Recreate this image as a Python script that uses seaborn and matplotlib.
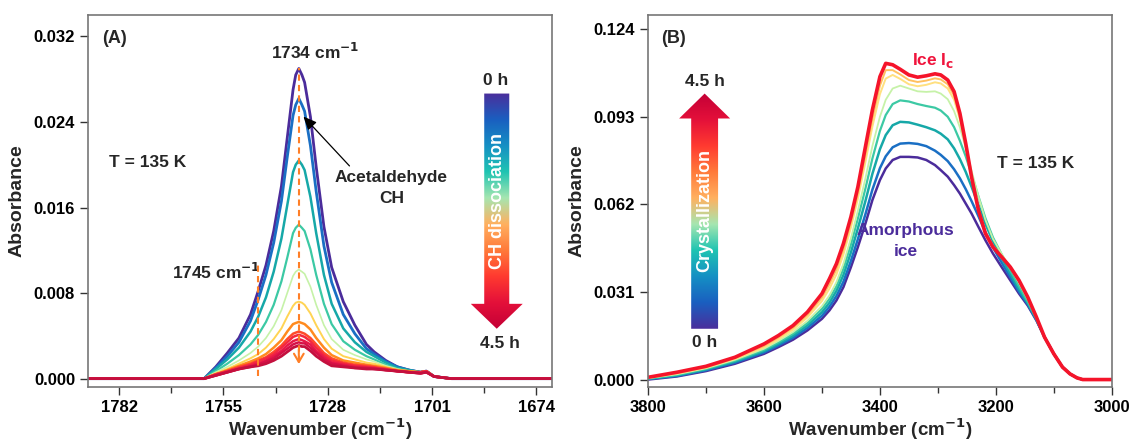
import numpy as np
import pandas as pd
import seaborn as sns
import matplotlib
matplotlib.use('Agg')
import matplotlib.pyplot as plt
from matplotlib.colors import LinearSegmentedColormap
from matplotlib.patches import Polygon

sns.set_style('white')
plt.rcParams['font.family'] = ['Liberation Sans', 'DejaVu Sans']
plt.rcParams['font.weight'] = 'bold'

# (A) C=O region, acetaldehyde CH dissociation, 0 h -> 4.5 h
wn_a = [1790, 1760, 1757, 1754, 1751, 1748, 1746, 1744, 1742, 1740, 1738.5, 1737, 1736.3,
        1735.5, 1734.7, 1734, 1732.5, 1731, 1729, 1727, 1724, 1721, 1718, 1716, 1713, 1710,
        1707, 1704, 1702.5, 1700.5, 1696, 1670]
abs_a_0h = [0, 0, 0.0011, 0.0024, 0.0038, 0.0060, 0.0082, 0.0106, 0.0138, 0.0180, 0.0225, 0.0270, 0.0284,
            0.0290, 0.0284, 0.0277, 0.0245, 0.0198, 0.0142, 0.0104, 0.0072, 0.0050, 0.0032, 0.0025, 0.0017, 0.0011,
            0.0008, 0.0006, 0.0007, 0.0002, 0, 0]
abs_a_1 = [0, 0, 0.0010, 0.0021, 0.0034, 0.0054, 0.0074, 0.0097, 0.0127, 0.0166, 0.0207, 0.0246, 0.0256,
           0.0262, 0.0256, 0.0250, 0.0218, 0.0175, 0.0124, 0.0090, 0.0060, 0.0042, 0.0028, 0.0023, 0.0016, 0.0011,
           0.0008, 0.0006, 0.0007, 0.0002, 0, 0]
abs_a_2 = [0, 0, 0.0009, 0.0018, 0.0029, 0.0044, 0.0058, 0.0076, 0.0100, 0.0131, 0.0162, 0.0193, 0.0200,
           0.0204, 0.0200, 0.0195, 0.0170, 0.0136, 0.0097, 0.0070, 0.0047, 0.0034, 0.0025, 0.0021, 0.0015, 0.0010,
           0.0008, 0.0006, 0.0007, 0.0002, 0, 0]
abs_a_3 = [0, 0, 0.0007, 0.0014, 0.0022, 0.0032, 0.0041, 0.0053, 0.0069, 0.0091, 0.0113, 0.0136, 0.0141,
           0.0144, 0.0141, 0.0138, 0.0121, 0.0097, 0.0070, 0.0051, 0.0035, 0.0027, 0.0021, 0.0018, 0.0013, 0.0009,
           0.0007, 0.0006, 0.0007, 0.0002, 0, 0]
abs_a_4 = [0, 0, 0.0006, 0.0011, 0.0017, 0.0024, 0.0030, 0.0038, 0.0049, 0.0064, 0.0080, 0.0096, 0.0100,
           0.0102, 0.0100, 0.0098, 0.0086, 0.0069, 0.0050, 0.0037, 0.0027, 0.0022, 0.0018, 0.0016, 0.0012, 0.0009,
           0.0007, 0.0006, 0.0007, 0.0002, 0, 0]
abs_a_5 = [0, 0, 0.0005, 0.0009, 0.0014, 0.0019, 0.0023, 0.0029, 0.0037, 0.0047, 0.0058, 0.0068, 0.0071,
           0.0072, 0.0071, 0.0069, 0.0061, 0.0050, 0.0037, 0.0028, 0.0021, 0.0018, 0.0015, 0.0014, 0.0011, 0.0008,
           0.0007, 0.0006, 0.0007, 0.0002, 0, 0]
abs_a_6 = [0, 0, 0.0004, 0.0008, 0.0012, 0.0016, 0.0019, 0.0023, 0.0029, 0.0036, 0.0044, 0.0051, 0.0052,
           0.0053, 0.0052, 0.0051, 0.0046, 0.0038, 0.0029, 0.0022, 0.0017, 0.0015, 0.0013, 0.0012, 0.0010, 0.0008,
           0.0007, 0.0006, 0.0007, 0.0002, 0, 0]
abs_a_7 = [0, 0, 0.0004, 0.0007, 0.0011, 0.0014, 0.0017, 0.0020, 0.0025, 0.0031, 0.0037, 0.0042, 0.0043,
           0.0044, 0.0043, 0.0042, 0.0038, 0.0032, 0.0024, 0.0019, 0.0015, 0.0013, 0.0012, 0.0011, 0.0009, 0.0007,
           0.0006, 0.0006, 0.0007, 0.0002, 0, 0]
abs_a_8 = [0, 0, 0.0004, 0.0007, 0.0010, 0.0013, 0.0016, 0.0019, 0.0023, 0.0029, 0.0034, 0.0039, 0.0040,
           0.0041, 0.0040, 0.0039, 0.0035, 0.0029, 0.0022, 0.0017, 0.0014, 0.0012, 0.0011, 0.0010, 0.0009, 0.0007,
           0.0006, 0.0006, 0.0007, 0.0002, 0, 0]
abs_a_9 = [0, 0, 0.0003, 0.0006, 0.0009, 0.0012, 0.0014, 0.0017, 0.0021, 0.0026, 0.0031, 0.0035, 0.0036,
           0.0037, 0.0036, 0.0035, 0.0032, 0.0026, 0.0020, 0.0015, 0.0013, 0.0011, 0.0010, 0.0010, 0.0008, 0.0007,
           0.0006, 0.0005, 0.0006, 0.0002, 0, 0]
abs_a_10 = [0, 0, 0.0003, 0.0006, 0.0009, 0.0011, 0.0013, 0.0016, 0.0019, 0.0024, 0.0028, 0.0032, 0.0033,
            0.0034, 0.0033, 0.0033, 0.0029, 0.0024, 0.0018, 0.0014, 0.0012, 0.0010, 0.0010, 0.0009, 0.0008, 0.0007,
            0.0006, 0.0005, 0.0006, 0.0002, 0, 0]
abs_a_45h = [0, 0, 0.0003, 0.0006, 0.0009, 0.0011, 0.0012, 0.0014, 0.0017, 0.0021, 0.0025, 0.0029, 0.0030,
             0.0031, 0.0030, 0.0030, 0.0026, 0.0021, 0.0016, 0.0012, 0.0011, 0.0010, 0.0009, 0.0009, 0.0008, 0.0007,
             0.0006, 0.0005, 0.0006, 0.0002, 0, 0]
curves_a = [abs_a_0h, abs_a_1, abs_a_2, abs_a_3, abs_a_4, abs_a_5, abs_a_6,
            abs_a_7, abs_a_8, abs_a_9, abs_a_10, abs_a_45h]
colors_a = ['#4b2c9b', '#1a6fc4', '#16a8a8', '#3cc9a4', '#c6f2a8', '#ffd454',
            '#ff8a1e', '#ff4a2a', '#f42840', '#e81848', '#d61046', '#c4103e']
widths_a = [2.0, 2.0, 1.8, 1.6, 1.2, 1.4, 1.8, 1.8, 1.8, 1.8, 1.8, 2.0]

# (B) OH stretch region, ice crystallization, 0 h -> 4.5 h
wn_b = [3800, 3750, 3700, 3650, 3600, 3575, 3550, 3525, 3500, 3487, 3475, 3463, 3450, 3438, 3425,
        3413, 3400, 3390, 3378, 3365, 3350, 3335, 3320, 3305, 3295, 3283, 3272, 3262, 3252, 3242,
        3230, 3218, 3205, 3190, 3175, 3160, 3145, 3130, 3116, 3100, 3085, 3072, 3060, 3050, 3000]
abs_b_0h = [0.0000, 0.0011, 0.0030, 0.0056, 0.0091, 0.0115, 0.0141, 0.0174, 0.0215, 0.0245, 0.0280, 0.0327,
            0.0398, 0.0469, 0.0552, 0.0635, 0.0706, 0.0747, 0.0777, 0.0788, 0.0788, 0.0786, 0.0777, 0.0759,
            0.0741, 0.0718, 0.0688, 0.0658, 0.0623, 0.0588, 0.0540, 0.0493, 0.0446, 0.0398, 0.0351, 0.0304,
            0.0262, 0.0209, 0.0150, 0.0091, 0.0044, 0.0020, 0.0006, 0.0000, 0.0000]
abs_b_1 = [0.0002, 0.0013, 0.0033, 0.0060, 0.0096, 0.0121, 0.0148, 0.0183, 0.0226, 0.0258, 0.0296, 0.0346,
           0.0420, 0.0497, 0.0585, 0.0672, 0.0748, 0.0790, 0.0822, 0.0835, 0.0837, 0.0834, 0.0826, 0.0810,
           0.0795, 0.0773, 0.0744, 0.0712, 0.0674, 0.0632, 0.0578, 0.0522, 0.0468, 0.0414, 0.0362, 0.0311,
           0.0266, 0.0211, 0.0150, 0.0091, 0.0044, 0.0020, 0.0006, 0.0000, 0.0000]
abs_b_2 = [0.0003, 0.0015, 0.0036, 0.0064, 0.0101, 0.0127, 0.0155, 0.0192, 0.0238, 0.0272, 0.0314, 0.0370,
           0.0450, 0.0535, 0.0632, 0.0728, 0.0815, 0.0865, 0.0900, 0.0912, 0.0910, 0.0902, 0.0893, 0.0882,
           0.0870, 0.0850, 0.0818, 0.0780, 0.0735, 0.0683, 0.0617, 0.0551, 0.0489, 0.0430, 0.0374, 0.0320,
           0.0271, 0.0214, 0.0150, 0.0091, 0.0044, 0.0020, 0.0006, 0.0000, 0.0000]
abs_b_3 = [0.0004, 0.0017, 0.0038, 0.0067, 0.0105, 0.0132, 0.0162, 0.0200, 0.0250, 0.0286, 0.0330, 0.0392,
           0.0478, 0.0570, 0.0676, 0.0782, 0.0880, 0.0936, 0.0975, 0.0988, 0.0984, 0.0975, 0.0968, 0.0962,
           0.0952, 0.0930, 0.0893, 0.0845, 0.0790, 0.0727, 0.0648, 0.0571, 0.0503, 0.0443, 0.0386, 0.0330,
           0.0276, 0.0216, 0.0150, 0.0091, 0.0044, 0.0020, 0.0006, 0.0000, 0.0000]
abs_b_4 = [0.0005, 0.0019, 0.0040, 0.0070, 0.0109, 0.0137, 0.0168, 0.0208, 0.0260, 0.0298, 0.0345, 0.0410,
           0.0500, 0.0598, 0.0712, 0.0826, 0.0930, 0.0990, 0.1030, 0.1040, 0.1030, 0.1020, 0.1018, 0.1020,
           0.1012, 0.0992, 0.0950, 0.0892, 0.0820, 0.0740, 0.0648, 0.0565, 0.0498, 0.0445, 0.0395, 0.0342,
           0.0284, 0.0218, 0.0150, 0.0091, 0.0044, 0.0020, 0.0006, 0.0000, 0.0000]
abs_b_5 = [0.0006, 0.0021, 0.0042, 0.0073, 0.0114, 0.0143, 0.0176, 0.0220, 0.0278, 0.0322, 0.0372, 0.0442,
           0.0538, 0.0640, 0.0770, 0.0895, 0.1010, 0.1065, 0.1078, 0.1064, 0.1045, 0.1038, 0.1043, 0.1052,
           0.1048, 0.1030, 0.0990, 0.0920, 0.0825, 0.0715, 0.0605, 0.0522, 0.0472, 0.0438, 0.0400, 0.0350,
           0.0290, 0.0220, 0.0150, 0.0091, 0.0044, 0.0020, 0.0006, 0.0000, 0.0000]
abs_b_6 = [0.0007, 0.0023, 0.0044, 0.0076, 0.0119, 0.0149, 0.0183, 0.0229, 0.0290, 0.0338, 0.0390, 0.0460,
           0.0555, 0.0660, 0.0795, 0.0922, 0.1040, 0.1095, 0.1095, 0.1080, 0.1060, 0.1053, 0.1058, 0.1066,
           0.1062, 0.1045, 0.1005, 0.0930, 0.0830, 0.0716, 0.0602, 0.0520, 0.0470, 0.0436, 0.0399, 0.0350,
           0.0291, 0.0221, 0.0150, 0.0091, 0.0044, 0.0020, 0.0006, 0.0000, 0.0000]
abs_b_45h = [0.0008, 0.0026, 0.0047, 0.0079, 0.0126, 0.0156, 0.0191, 0.0239, 0.0304, 0.0357, 0.0410, 0.0481,
             0.0576, 0.0682, 0.0824, 0.0954, 0.1072, 0.1119, 0.1114, 0.1098, 0.1078, 0.1070, 0.1075, 0.1082,
             0.1078, 0.1060, 0.1019, 0.0942, 0.0836, 0.0718, 0.0599, 0.0517, 0.0469, 0.0434, 0.0398, 0.0351,
             0.0292, 0.0221, 0.0150, 0.0091, 0.0044, 0.0020, 0.0006, 0.0000, 0.0000]
curves_b = [abs_b_0h, abs_b_1, abs_b_2, abs_b_3, abs_b_4, abs_b_5, abs_b_6, abs_b_45h]
colors_b = ['#4b2c9b', '#1a6fc4', '#16a8a8', '#3cc9a4', '#c6f2a8', '#ffe080', '#ffc060', '#f5142a']
widths_b = [1.8, 1.8, 1.8, 1.6, 1.3, 1.4, 1.4, 2.6]

yticks_a = [0.000, 0.008, 0.016, 0.024, 0.032]
xticks_a = [1782, 1755, 1728, 1701, 1674]
yticks_b = [0.000, 0.031, 0.062, 0.093, 0.124]
xticks_b = [3800, 3600, 3400, 3200, 3000]

grad_cmap = LinearSegmentedColormap.from_list('grad', [
    '#4a2f9c', '#1a5fc0', '#1590c4', '#1fc4b2', '#a6e6b0', '#ffb060',
    '#ff7a3a', '#ff3a30', '#e4103a', '#c40036'])

fig = plt.figure(figsize=(11.31, 4.42), dpi=100)
ax_a = fig.add_axes([0.078, 0.124, 0.410, 0.842])
ax_b = fig.add_axes([0.573, 0.124, 0.410, 0.842])


def draw_curves(ax, wn, curves, colors, widths):
    for ys, c, w in zip(curves, colors, widths):
        df = pd.DataFrame({'wn': wn, 'abs': ys})
        sns.lineplot(data=df, x='wn', y='abs', color=c, lw=w, ax=ax,
                     estimator=None, sort=False)


def grad_arrow(ax, xc, y_tail, y_base, y_tip, half_shaft, half_head, reverse):
    pts = [(xc - half_shaft, y_tail), (xc + half_shaft, y_tail), (xc + half_shaft, y_base),
           (xc + half_head, y_base), (xc, y_tip), (xc - half_head, y_base), (xc - half_shaft, y_base)]
    poly = Polygon(pts, closed=True, transform=ax.transAxes, facecolor='none', edgecolor='none')
    ax.add_patch(poly)
    grad = np.linspace(0, 1, 256).reshape(-1, 1)
    if reverse:
        grad = grad[::-1]
    lo, hi = min(y_tail, y_tip), max(y_tail, y_tip)
    im = ax.imshow(grad, extent=[xc - half_head, xc + half_head, lo, hi], origin='upper',
                   transform=ax.transAxes, cmap=grad_cmap, aspect='auto', zorder=3)
    im.set_clip_path(poly)


def style_axes(ax, xlim, ylim, xticks, yticks):
    ax.set_xlim(*xlim)
    ax.set_ylim(*ylim)
    ax.set_xticks(xticks)
    ax.set_yticks(yticks)
    ax.set_yticklabels(['%.3f' % v for v in yticks])
    step = xticks[1] - xticks[0]
    ax.set_xticks([t + step / 2 for t in xticks[:-1]], minor=True)
    ax.tick_params(axis='both', which='major', direction='out', length=6, width=1,
                   labelsize=12, colors='#333333', left=True, bottom=True)
    ax.tick_params(axis='x', which='minor', direction='out', length=4, width=1,
                   colors='#333333', bottom=True)
    for lbl in ax.get_xticklabels() + ax.get_yticklabels():
        lbl.set_fontweight('bold')
        lbl.set_color('black')
    for sp in ax.spines.values():
        sp.set_color('#777777')
        sp.set_linewidth(1.2)
    ax.set_xlabel('Wavenumber (cm$^{\\mathbf{-1}}$)', fontsize=13.5, fontweight='bold', labelpad=1)
    ax.set_ylabel('Absorbance', fontsize=14, fontweight='bold', labelpad=6)


# ---- panel A ----
draw_curves(ax_a, wn_a, curves_a, colors_a, widths_a)
ax_a.plot([1735.5, 1735.5], [0.0016, 0.0290], ls=(0, (3, 2)), color='#ff7f27', lw=1.5, zorder=4)
ax_a.annotate('', xy=(1735.5, 0.0011), xytext=(1735.5, 0.0030),
              arrowprops=dict(arrowstyle='->,head_length=0.6,head_width=0.35', color='#ff7f27', lw=1.5),
              zorder=4)
ax_a.plot([1746, 1746], [0.0002, 0.0106], ls=(0, (3, 2)), color='#ff7f27', lw=1.5, zorder=4)
ax_a.annotate('', xy=(1734.8, 0.0247), xytext=(1721.9, 0.0197),
              arrowprops=dict(arrowstyle='-|>,head_length=0.8,head_width=0.35', color='black', lw=0.9))
ax_a.text(0.029, 0.937, '(A)', transform=ax_a.transAxes, fontsize=13, fontweight='bold', ha='left', va='center')
ax_a.text(0.489, 0.90, '1734 cm$^{\\mathbf{-1}}$', transform=ax_a.transAxes, fontsize=12.5,
          fontweight='bold', ha='center', va='center')
ax_a.text(0.045, 0.603, 'T = 135 K', transform=ax_a.transAxes, fontsize=12.5, fontweight='bold',
          ha='left', va='center')
ax_a.text(0.654, 0.535, 'Acetaldehyde\nCH', transform=ax_a.transAxes, fontsize=12.5, fontweight='bold',
          ha='center', va='center', linespacing=1.5)
ax_a.text(0.372, 0.309, '1745 cm$^{\\mathbf{-1}}$', transform=ax_a.transAxes, fontsize=12.5,
          fontweight='bold', ha='right', va='center')
grad_arrow(ax_a, 0.881, 0.789, 0.224, 0.157, 0.027, 0.056, reverse=False)
ax_a.text(0.878, 0.823, '0 h', transform=ax_a.transAxes, fontsize=12.5, fontweight='bold', ha='center', va='center')
ax_a.text(0.888, 0.118, '4.5 h', transform=ax_a.transAxes, fontsize=12.5, fontweight='bold', ha='center', va='center')
ax_a.text(0.882, 0.50, 'CH dissociation', transform=ax_a.transAxes, fontsize=13, fontweight='bold',
          color='white', rotation=90, ha='center', va='center', zorder=5)
style_axes(ax_a, (1790, 1670), (-0.0008, 0.034), xticks_a, yticks_a)

# ---- panel B ----
draw_curves(ax_b, wn_b, curves_b, colors_b, widths_b)
ax_b.text(0.028, 0.937, '(B)', transform=ax_b.transAxes, fontsize=13, fontweight='bold', ha='left', va='center')
ax_b.text(0.615, 0.879, 'Ice I$_\\mathbf{c}$', transform=ax_b.transAxes, fontsize=12.5, fontweight='bold',
          color='#f0143c', ha='center', va='center')
ax_b.text(0.835, 0.60, 'T = 135 K', transform=ax_b.transAxes, fontsize=12.5, fontweight='bold',
          ha='center', va='center')
ax_b.text(0.556, 0.393, 'Amorphous\nice', transform=ax_b.transAxes, fontsize=12.5, fontweight='bold',
          color='#4b2c9b', ha='center', va='center', linespacing=1.5)
grad_arrow(ax_b, 0.122, 0.157, 0.722, 0.789, 0.029, 0.055, reverse=True)
ax_b.text(0.122, 0.822, '4.5 h', transform=ax_b.transAxes, fontsize=12.5, fontweight='bold', ha='center', va='center')
ax_b.text(0.122, 0.119, '0 h', transform=ax_b.transAxes, fontsize=12.5, fontweight='bold', ha='center', va='center')
ax_b.text(0.123, 0.475, 'Crystallization', transform=ax_b.transAxes, fontsize=13, fontweight='bold',
          color='white', rotation=90, ha='center', va='center', zorder=5)
style_axes(ax_b, (3800, 3000), (-0.0027, 0.129), xticks_b, yticks_b)

fig.savefig('out.png', dpi=100)
